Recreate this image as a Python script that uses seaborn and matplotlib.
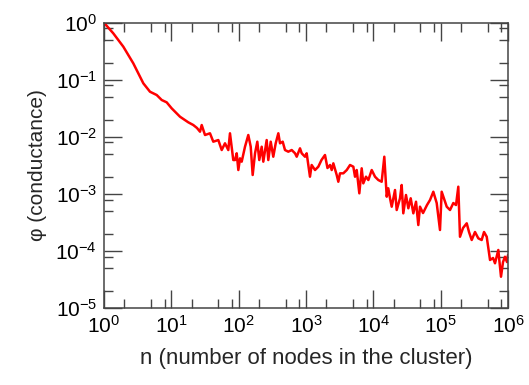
import numpy as np
import pandas as pd
import matplotlib
matplotlib.use("Agg")
import matplotlib.pyplot as plt
import matplotlib.ticker as mticker
import seaborn as sns

# Values (log10 of n and log10 of conductance)
log_n = [0.000, 0.138, 0.287, 0.435, 0.584, 0.683, 0.783, 0.857, 0.931, 1.005,
         1.129, 1.252, 1.326, 1.381,
         1.426, 1.451, 1.500, 1.574, 1.623, 1.698, 1.748, 1.797, 1.846,
         1.871, 1.920, 1.946, 1.971, 1.995, 2.020, 2.045, 2.094, 2.143, 2.179,
         2.208, 2.243, 2.277, 2.306, 2.342, 2.366, 2.416, 2.440, 2.476, 2.514,
         2.550, 2.589, 2.614, 2.654, 2.688, 2.737, 2.788, 2.837, 2.862, 2.911,
         2.936, 2.985, 3.010, 3.059, 3.084, 3.134, 3.183, 3.230, 3.282, 3.319,
         3.357, 3.382, 3.406, 3.456, 3.480, 3.505, 3.554, 3.605, 3.654, 3.703,
         3.728, 3.753, 3.792, 3.827, 3.851, 3.891, 3.926, 3.976, 4.025, 4.074,
         4.124, 4.163, 4.199, 4.222, 4.248, 4.273, 4.297, 4.322, 4.347, 4.396,
         4.421, 4.445, 4.485, 4.520, 4.555, 4.594, 4.634, 4.668, 4.693,
         4.738, 4.797, 4.842, 4.891, 4.941, 4.990, 5.015, 5.090, 5.139, 5.188,
         5.228, 5.262, 5.287, 5.332, 5.387, 5.421, 5.461, 5.510, 5.559, 5.609,
         5.644, 5.684, 5.733, 5.778, 5.807, 5.856, 5.896, 5.926, 5.955, 5.985,
         6.000]
log_phi = [0.000, -0.186, -0.420, -0.711, -1.061, -1.208, -1.266, -1.353, -1.394, -1.499,
           -1.646, -1.744, -1.791, -1.843,
           -1.908, -1.791, -1.966, -1.936, -2.083, -2.054, -2.229, -2.111, -2.229,
           -1.936, -2.404, -2.404, -2.286, -2.579, -2.374, -2.433, -2.171, -1.966, -2.171,
           -2.666, -2.286, -2.083, -2.404, -2.171, -2.433, -2.054, -2.404, -2.083, -2.346,
           -2.111, -1.936, -2.111, -2.083, -2.229, -2.258, -2.229, -2.286, -2.346, -2.199,
           -2.286, -2.346, -2.286, -2.696, -2.491, -2.579, -2.521, -2.404, -2.316, -2.544,
           -2.491, -2.579, -2.462, -2.666, -2.784, -2.637, -2.637, -2.579, -2.491, -2.521,
           -2.696, -2.579, -2.987, -2.549, -2.812, -2.696, -2.754, -2.579, -2.696, -2.754,
           -2.784, -2.346, -3.046, -2.899, -3.074, -3.221, -3.074, -2.929, -3.279, -3.074,
           -2.841, -3.337, -3.016, -3.249, -3.074, -3.337, -3.134, -3.542, -3.221,
           -3.332, -3.192, -3.104, -2.959, -3.157, -3.629, -2.959, -3.221, -3.279, -3.157,
           -3.192, -2.871, -3.747, -3.594, -3.512, -3.664, -3.804, -3.664, -3.775, -3.804,
           -3.664, -3.747, -4.154, -4.119, -4.212, -3.979, -4.447, -4.190, -4.097, -4.190,
           -4.067]

df = pd.DataFrame({"n": 10 ** np.array(log_n), "phi": 10 ** np.array(log_phi)})

sns.set_style("ticks")
plt.rcParams["font.family"] = ["Liberation Sans", "DejaVu Sans"]

fig = plt.figure(figsize=(5.29, 3.85), dpi=100)
ax = fig.add_axes([0.1966, 0.1992, 0.7637, 0.7418])

sns.lineplot(data=df, x="n", y="phi", ax=ax, color="#ff0000", linewidth=1.8,
             sort=False, estimator=None)

ax.set_xscale("log")
ax.set_yscale("log")
ax.set_xlim(1, 1e6)
ax.set_ylim(1e-5, 1)

for axis in (ax.xaxis, ax.yaxis):
    axis.set_major_locator(mticker.LogLocator(base=10, subs=(1.0,), numticks=20))
    axis.set_minor_locator(mticker.LogLocator(base=10, subs=(2.0, 5.0, 8.0), numticks=20))
    axis.set_minor_formatter(mticker.NullFormatter())

spine_color = "#444444"
for s in ax.spines.values():
    s.set_color(spine_color)
    s.set_linewidth(1.1)

ax.tick_params(which="both", direction="in", top=True, right=True,
               color=spine_color, width=1.0, labelsize=15, labelcolor="black")
ax.tick_params(which="major", length=13, pad=5)
ax.tick_params(which="minor", length=6.5)

ax.set_xlabel("n (number of nodes in the cluster)", fontsize=16, labelpad=8)
ax.set_ylabel("φ (conductance)", fontsize=15, labelpad=6)

fig.savefig("out.png", dpi=100)
